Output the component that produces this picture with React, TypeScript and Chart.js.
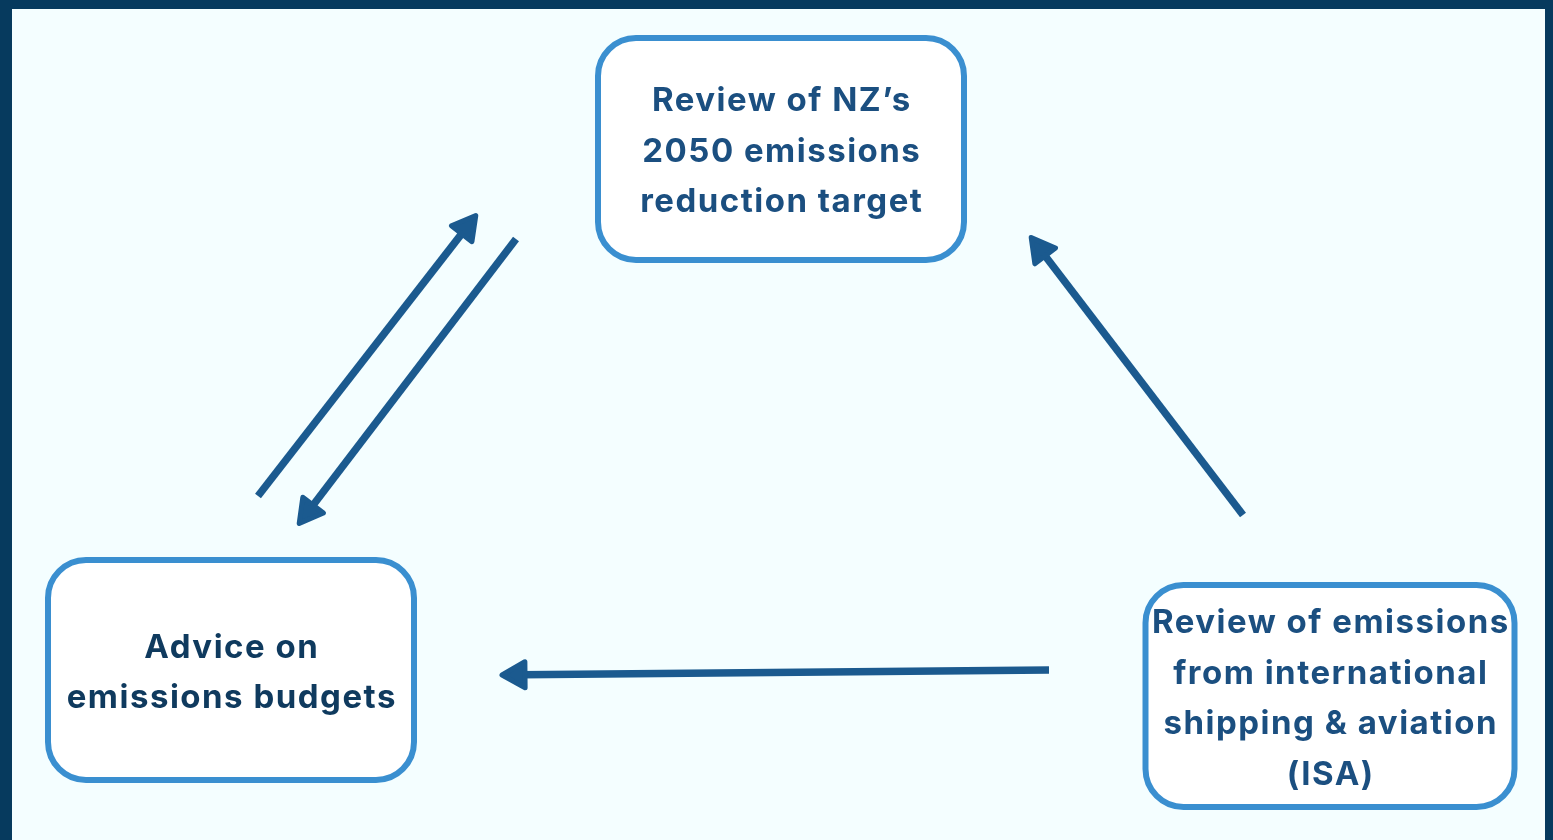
import React, { useEffect, useRef } from "react";
import { Chart, registerables } from "chart.js";
Chart.register(...registerables);

// Diagram nodes (coordinates in the chart's own x/y units)
const nodeLabels: string[][] = [
  ["Review of NZ’s", "2050 emissions", "reduction target"],
  ["Advice on", "emissions budgets"],
  ["Review of emissions", "from international", "shipping & aviation", "(ISA)"],
];
const nodeCenterX = [781, 231, 1330];
const nodeCenterY = [149, 670, 696];
const nodeWidth = [366, 366, 369];
const nodeHeight = [222, 220, 222];
const nodeTextColor = ["#1B4F80", "#0F3A5E", "#1B4F80"];

// Arrows: tail -> tip
const arrowFromX = [258, 516, 1243, 1049];
const arrowFromY = [496, 239, 515, 670];
const arrowToX = [477, 298, 1030, 500];
const arrowToY = [214, 525, 236, 675];

const X_MAX = 1553;
const Y_MAX = 840;
const HEAD_LEN = 25;
const HEAD_HALF = 13;
const ARROW_COLOR = "#1B5A8F";

function shaftEnd(i: number) {
  const dx = arrowToX[i] - arrowFromX[i];
  const dy = arrowToY[i] - arrowFromY[i];
  const len = Math.hypot(dx, dy);
  return {
    x: arrowToX[i] - (dx / len) * (HEAD_LEN - 4),
    y: arrowToY[i] - (dy / len) * (HEAD_LEN - 4),
  };
}

const diagramPlugin = {
  id: "diagram",
  beforeDraw(chart: any) {
    const { ctx, scales } = chart;
    const xs = scales.x;
    const ys = scales.y;
    ctx.save();
    ctx.fillStyle = "#063A5E";
    ctx.fillRect(0, 0, chart.width, chart.height);
    ctx.fillStyle = "#F4FEFF";
    const x0 = xs.getPixelForValue(12);
    const x1 = xs.getPixelForValue(1545);
    const y0 = ys.getPixelForValue(9);
    const y1 = ys.getPixelForValue(840);
    ctx.fillRect(x0, y0, x1 - x0, y1 - y0);
    ctx.restore();
  },
  afterDatasetsDraw(chart: any) {
    const { ctx, scales } = chart;
    const xs = scales.x;
    const ys = scales.y;
    ctx.save();
    // arrow heads
    for (let i = 0; i < arrowFromX.length; i++) {
      const tx = xs.getPixelForValue(arrowToX[i]);
      const ty = ys.getPixelForValue(arrowToY[i]);
      const fx = xs.getPixelForValue(arrowFromX[i]);
      const fy = ys.getPixelForValue(arrowFromY[i]);
      const ang = Math.atan2(ty - fy, tx - fx);
      const tipx = tx - Math.cos(ang) * 2;
      const tipy = ty - Math.sin(ang) * 2;
      const bx = tx - Math.cos(ang) * HEAD_LEN;
      const by = ty - Math.sin(ang) * HEAD_LEN;
      const px = -Math.sin(ang);
      const py = Math.cos(ang);
      ctx.beginPath();
      ctx.moveTo(tipx, tipy);
      ctx.lineTo(bx + px * HEAD_HALF, by + py * HEAD_HALF);
      ctx.lineTo(bx - px * HEAD_HALF, by - py * HEAD_HALF);
      ctx.closePath();
      ctx.fillStyle = ARROW_COLOR;
      ctx.strokeStyle = ARROW_COLOR;
      ctx.lineWidth = 5;
      ctx.lineJoin = "round";
      ctx.fill();
      ctx.stroke();
    }
    // boxes
    for (let i = 0; i < nodeLabels.length; i++) {
      const cx = xs.getPixelForValue(nodeCenterX[i]);
      const cy = ys.getPixelForValue(nodeCenterY[i]);
      const w = nodeWidth[i];
      const h = nodeHeight[i];
      ctx.beginPath();
      (ctx as any).roundRect(cx - w / 2, cy - h / 2, w, h, 38);
      ctx.fillStyle = "#FFFFFF";
      ctx.fill();
      ctx.lineWidth = 6;
      ctx.strokeStyle = "#3A8FD0";
      ctx.stroke();
      const lines = nodeLabels[i];
      const lh = 50.5;
      ctx.fillStyle = nodeTextColor[i];
      ctx.font = "700 33px Inter, 'Open Sans', sans-serif";
      (ctx as any).letterSpacing = "1.5px";
      ctx.textAlign = "center";
      ctx.textBaseline = "middle";
      const startY = cy + 3 - ((lines.length - 1) * lh) / 2;
      lines.forEach((ln, k) => {
        ctx.fillText(ln, cx + 0.8, startY + k * lh);
      });
      (ctx as any).letterSpacing = "0px";
    }
    ctx.restore();
  },
};

export default function App() {
  const ref = useRef<HTMLCanvasElement | null>(null);
  useEffect(() => {
    document.body.style.margin = "0";
    const canvas = ref.current;
    if (!canvas) return;
    const datasets = arrowFromX.map((_, i) => {
      const e = shaftEnd(i);
      return {
        label: "arrow " + (i + 1),
        data: [
          { x: arrowFromX[i], y: arrowFromY[i] },
          { x: e.x, y: e.y },
        ],
        showLine: true,
        borderColor: ARROW_COLOR,
        backgroundColor: ARROW_COLOR,
        borderWidth: 7.5,
        borderCapStyle: "butt" as const,
        pointRadius: 0,
        fill: false,
      };
    });
    const chart = new Chart(canvas, {
      type: "scatter",
      data: { datasets },
      options: {
        responsive: false,
        animation: false,
        devicePixelRatio: 1,
        layout: { padding: 0 },
        plugins: { legend: { display: false }, tooltip: { enabled: false } },
        scales: {
          x: { type: "linear", min: 0, max: X_MAX, display: false },
          y: { type: "linear", min: 0, max: Y_MAX, reverse: true, display: false },
        },
      },
      plugins: [diagramPlugin],
    });
    return () => chart.destroy();
  }, []);
  return (
    <div style={{ width: 1553, height: 840, overflow: "hidden" }}>
      <canvas ref={ref} width={1553} height={840} style={{ display: "block" }} />
    </div>
  );
}
